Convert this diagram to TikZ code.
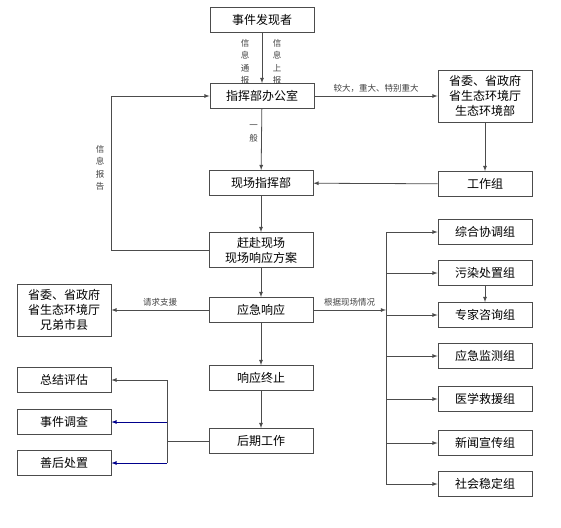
\documentclass[tikz,border=0pt]{standalone}
\usepackage{fontspec}
\newfontfamily\cjk{Noto Sans CJK SC}

\tikzset{>=latex,
                 box/.style={draw=black!70, line width=0.8pt, minimum width=104pt, minimum height=25pt, text centered,
                             font=\cjk\fontsize{12}{15}\selectfont},
                 grp/.style={box, minimum width=94pt},
                 big/.style={grp, minimum height=52pt, align=center},
                 lbl/.style={font=\cjk\fontsize{8.5}{12.5}\selectfont, text=black!75, align=center},
                link/.style={draw=black!70, line width=0.8pt, ->}}

\begin{document}
\begin{tikzpicture}[x=1pt, y=-1pt]
            \useasboundingbox (0,0) rectangle (561,527);

            \node[box] at (262,  20) (finder)   {事件发现者};
            \node[box] at (262,  96) (office)   {指挥部办公室};
            \node[big] at (485,  96) (province) {省委、省政府\\省生态环境厅\\生态环境部};
            \node[grp] at (485, 184) (workgrp)  {工作组};
            \node[box] at (261, 183) (command)  {现场指挥部};
            \node[box, minimum height=35pt, align=center] at (261, 250) (rush) {赶赴现场\\现场响应方案};
            \node[box] at (261, 310) (response) {应急响应};
            \node[big] at ( 64, 310) (support)  {省委、省政府\\省生态环境厅\\兄弟市县};
            \node[box] at (261, 378) (stop)     {响应终止};
            \node[box] at (261, 441) (after)    {后期工作};

            % groups on the right
            \node[grp] at (485, 232) (coord)     {综合协调组};
            \node[grp] at (485, 273) (pollution) {污染处置组};
            \node[grp] at (485, 315) (expert)    {专家咨询组};
            \node[grp] at (485, 356) (monitor)   {应急监测组};
            \node[grp] at (485, 399) (medical)   {医学救援组};
            \node[grp] at (485, 443) (news)      {新闻宣传组};
            \node[grp] at (485, 484) (stable)    {社会稳定组};

            % follow-up work on the left
            \node[grp] at ( 64, 380) (summary)   {总结评估};
            \node[grp] at ( 64, 422) (inquiry)   {事件调查};
            \node[grp] at ( 64, 463) (aftercare) {善后处置};

            \node[lbl] at (245,  62) (notify) {信\\息\\通\\报};
            \node[lbl] at (277,  62) (report) {信\\息\\上\\报};
            \node[lbl] at (100, 168) (back)   {信\\息\\报\\告};

            \coordinate (rbus) at (386, 310);
            \coordinate (lbus) at (167, 441);

            \draw[link] (finder) -- (office);
            \draw[link] (office) -- node[lbl, above] {较大，重大、特别重大} (province);
            \draw[link] (province) -- (workgrp);
            \draw[link] (workgrp) -- (command);
            \draw[link] (office) -- node[lbl, left, pos=0.4] {一\\般} (command);
            \draw[link] (command) -- (rush);
            \draw[link] (rush) -- (response);
            \draw[link] (rush.west) -- ++(-97,0) |- (office.west);
            \draw[link] (response) -- node[lbl, above] {请求支援} (support);
            \draw[link] (response) -- node[lbl, above] {根据现场情况} (rbus);
            \draw[link] (response) -- (stop);
            \draw[link] (stop) -- (after);

            \draw[draw=black!70, line width=0.8pt] (coord.west -| rbus) -- (stable.west -| rbus);
            \foreach \g in {coord, pollution, expert, monitor, medical, news, stable}
                \draw[link] (\g.west -| rbus) -- (\g.west);
            \draw[link] (pollution) -- (expert);

            \draw[draw=black!70, line width=0.8pt]
                   (after.west)
                -- (lbus);
            \draw[draw=black!70, line width=0.8pt] (summary.east -| lbus) -- (aftercare.east -| lbus);
            \draw[link] (summary.east -| lbus) -- (summary);
            \draw[link, draw=blue!55!black] (inquiry.east -| lbus) -- (inquiry);
            \draw[link, draw=blue!55!black] (aftercare.east -| lbus) -- (aftercare);
        \end{tikzpicture}
\end{document}
